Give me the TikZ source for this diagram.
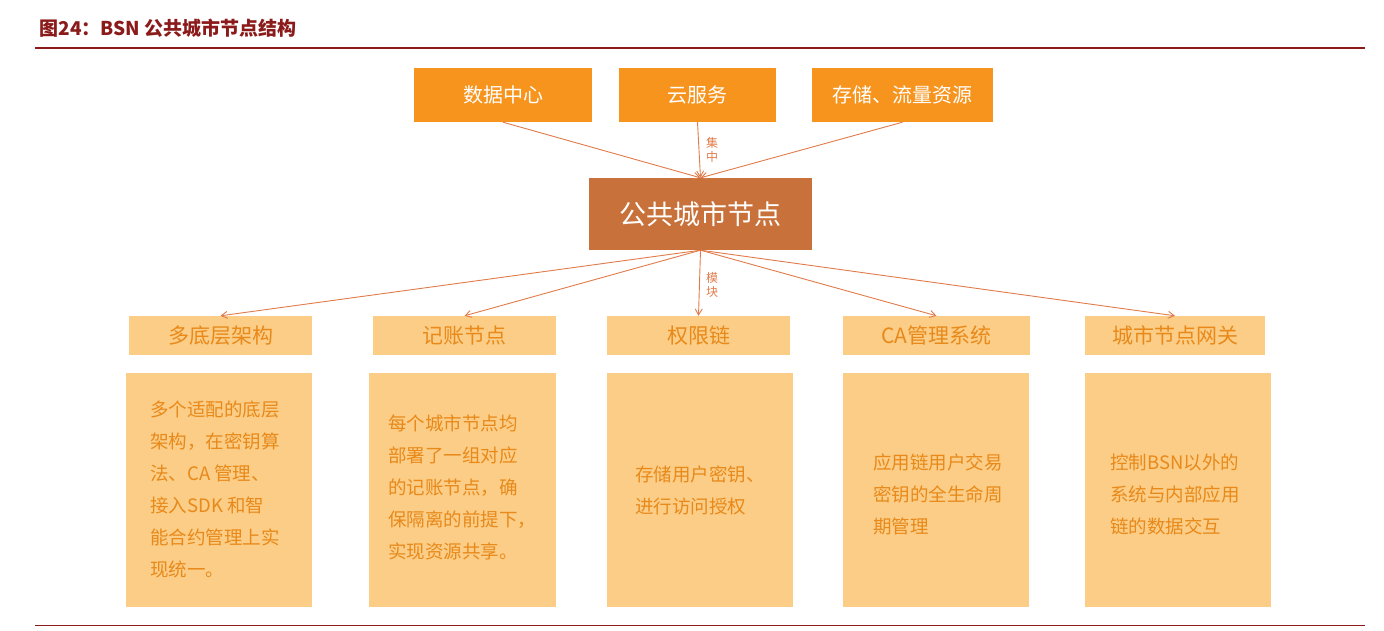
\documentclass[tikz,border=0pt]{standalone}
\usepackage{fontspec}
\setmainfont{Noto Sans CJK SC}
\usetikzlibrary{arrows.meta}
\definecolor{topc}{HTML}{F7941D}
\definecolor{midc}{HTML}{C8713A}
\definecolor{lite}{HTML}{FBCD86}
\definecolor{txto}{HTML}{E8891A}
\definecolor{titc}{HTML}{8B1A1A}
\definecolor{arr}{HTML}{E07B4A}
\begin{document}
\begin{tikzpicture}[x=1pt,y=-1pt,
 topbox/.style={fill=topc,text=white,minimum height=54pt,inner sep=0pt,font=\fontsize{20}{24}\selectfont},
 hdr/.style={fill=lite,text=txto,minimum height=39pt,inner sep=0pt,font=\fontsize{21}{24}\selectfont},
 body/.style={fill=lite,text=txto,inner sep=0pt,font=\fontsize{18.5}{32}\selectfont},
 con/.style={draw=arr,line width=0.9pt,-{Straight Barb[length=6pt,width=7pt]}},
 lbl/.style={text=arr,font=\fontsize{12}{14}\selectfont,align=center}]
\useasboundingbox (0,0) rectangle (1384,630);
\node[anchor=west,text=titc,font=\bfseries\fontsize{19}{22}\selectfont] (title) at (36,28) {图24：BSN 公共城市节点结构};
\draw[titc,line width=1.5pt] (35,48) -- (1365,48);
\draw[titc,line width=1pt] (35,625) -- (1365,625);
\node[topbox,minimum width=178pt] (t1) at (503,95) {数据中心};
\node[topbox,minimum width=157pt] (t2) at (697.5,95) {云服务};
\node[topbox,minimum width=181pt] (t3) at (902.5,95) {存储、流量资源};
\node[fill=midc,text=white,minimum width=223pt,minimum height=72pt,font=\fontsize{27}{30}\selectfont] (c) at (700.5,214) {公共城市节点};
\draw[con] (t1.south) -- (c.north);
\draw[con] (t2.south) -- (c.north);
\draw[con] (t3.south) -- (c.north);
\node[lbl] (l1) at (712,150) {集\\中};
\node[hdr,minimum width=183pt] (h1) at (220.5,335.5) {多底层架构};
\node[hdr,minimum width=183pt] (h2) at (464.5,335.5) {记账节点};
\node[hdr,minimum width=183pt] (h3) at (698.5,335.5) {权限链};
\node[hdr,minimum width=187pt] (h4) at (936.5,335.5) {CA管理系统};
\node[hdr,minimum width=180pt] (h5) at (1175,335.5) {城市节点网关};
\foreach \h in {h1,h2,h3,h4,h5} \draw[con] (c.south) -- (\h.north);
\node[lbl] (l2) at (712,285) {模\\块};
\node[body,minimum width=186pt,minimum height=234pt] (b1) at (219,490) {};
\node[body,minimum width=187pt,minimum height=234pt] (b2) at (462.5,490) {};
\node[body,minimum width=186pt,minimum height=234pt] (b3) at (700,490) {};
\node[body,minimum width=186pt,minimum height=234pt] (b4) at (936,490) {};
\node[body,minimum width=186pt,minimum height=234pt] (b5) at (1178,490) {};
\node[body,fill=none,align=left] (x1) at (215,489) {多个适配的底层\\架构，在密钥算\\法、CA 管理、\\接入SDK 和智\\能合约管理上实\\现统一。};
\node[body,fill=none,align=left] (x2) at (462,487) {每个城市节点均\\部署了一组对应\\的记账节点，确\\保隔离的前提下，\\实现资源共享。};
\node[body,fill=none,align=left] (x3) at (700,490) {存储用户密钥、\\进行访问授权};
\node[body,fill=none,align=left] (x4) at (938,494) {应用链用户交易\\密钥的全生命周\\期管理};
\node[body,fill=none,align=left] (x5) at (1175,494) {控制BSN以外的\\系统与内部应用\\链的数据交互};
\end{tikzpicture}
\end{document}
